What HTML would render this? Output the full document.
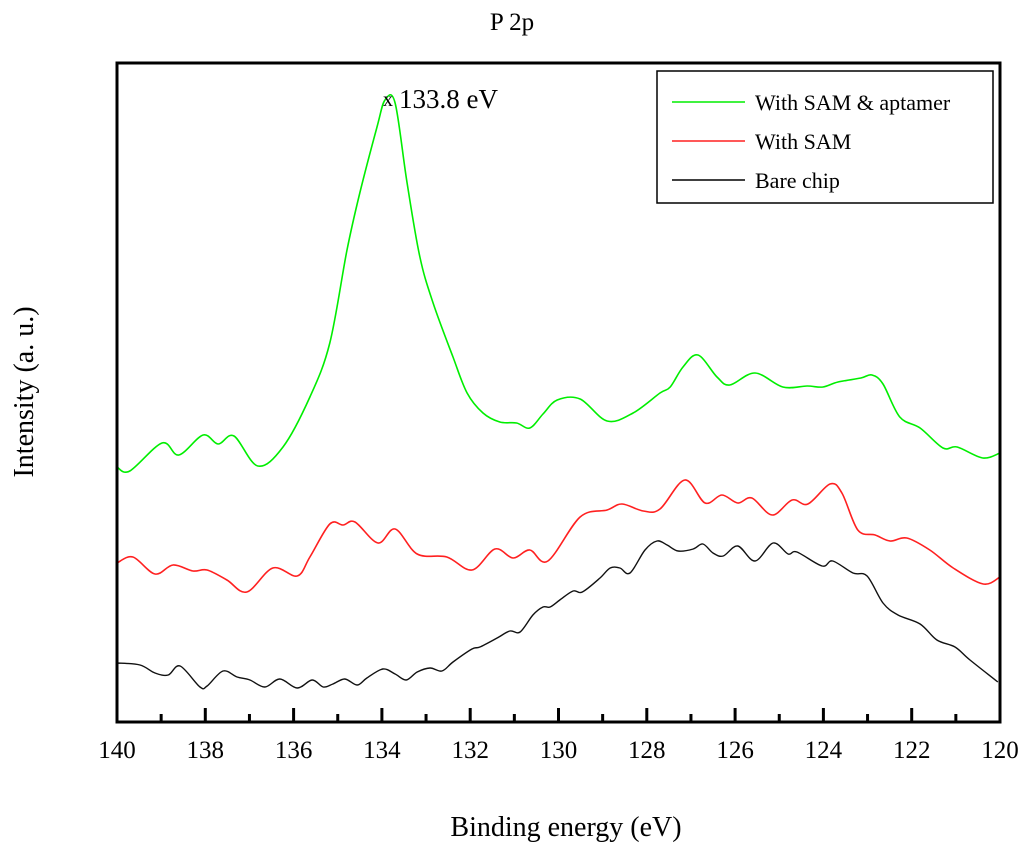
<!DOCTYPE html>
<html><head><meta charset="utf-8"><style>
body{margin:0;background:#fff;}
svg{display:block;font-family:"Liberation Serif",serif;}
</style></head><body>
<svg id="chart" width="1024" height="846">
<text x="512" y="30" text-anchor="middle" font-size="25">P 2p</text>
<text x="566" y="836" text-anchor="middle" font-size="28">Binding energy (eV)</text>
<text transform="translate(33,392) rotate(-90)" text-anchor="middle" font-size="28">Intensity (a. u.)</text>
<g id="series"></g>
<g id="axes"></g>
<text x="383" y="106" font-size="20">x</text>
<text x="399" y="108" font-size="27">133.8 eV</text>
<g>
<rect x="657" y="71" width="336" height="132" fill="#fff" stroke="#000" stroke-width="1.5"/>
<line x1="672" y1="102" x2="745" y2="102" stroke="#00ee00" stroke-width="1.5"/>
<text x="755" y="110" font-size="22">With SAM &amp; aptamer</text>
<line x1="672" y1="141" x2="745" y2="141" stroke="#ff2020" stroke-width="1.5"/>
<text x="755" y="149" font-size="22">With SAM</text>
<line x1="672" y1="180" x2="745" y2="180" stroke="#000" stroke-width="1.5"/>
<text x="755" y="188" font-size="22">Bare chip</text>
</g>
</svg>
<script>
const greenE=[140,139.71,138.98,138.60,138.05,137.71,137.35,136.81,136.24,135.63,135.18,134.79,134.50,134.11,133.93,133.70,133.43,133.14,132.84,132.39,132.07,131.71,131.33,130.95,130.65,130.35,130.03,129.51,128.90,128.31,127.70,127.47,127.18,126.84,126.41,126.12,125.55,124.92,124.37,124.01,123.67,123.15,122.90,122.65,122.27,121.81,121.29,120.97,120.39,120.0];
const greenI=[255,251,279,267,287,278,286,256,275,325,379,472,529,595,622,619,539,465,419,365,329,309,300,299,294,308,322,323,301,309,329,335,355,367,345,337,349,335,336,335,340,344,347,338,305,294,274,275,264,269];
const redE=[140,139.64,139.14,138.73,138.28,137.96,137.51,137.06,136.47,135.92,135.63,135.18,134.88,134.61,134.09,133.70,133.20,132.53,131.96,131.44,131.03,130.65,130.24,129.51,128.90,128.56,128.08,127.70,127.14,126.68,126.30,125.94,125.62,125.16,124.71,124.35,123.85,123.58,123.22,122.83,122.49,122.11,121.59,121.06,120.38,120];
const redI=[159,165,148,157,151,152,142,130,154,146,165,198,197,200,179,193,168,165,152,173,164,172,161,205,212,218,211,213,242,219,227,219,224,207,222,218,238,229,192,187,181,184,172,154,138,145];
const blackE=[140,139.48,139.14,138.84,138.57,138.12,137.96,137.60,137.28,136.99,136.65,136.31,135.92,135.58,135.33,135.11,134.84,134.56,134.34,133.98,133.70,133.45,133.20,132.91,132.64,132.39,131.96,131.78,131.39,131.10,130.87,130.58,130.35,130.19,129.97,129.67,129.46,129.06,128.83,128.61,128.38,128.04,127.77,127.54,127.29,126.95,126.73,126.50,126.27,125.94,125.55,125.14,124.80,124.60,124.03,123.79,123.33,123.01,122.65,122.31,121.81,121.43,121.02,120.68,120.05];
const blackI=[59,57,49,47,56,35,36,51,45,42,35,43,34,42,35,38,43,37,44,53,48,42,50,54,51,60,73,75,84,91,90,107,115,115,122,131,130,144,154,154,149,172,181,177,171,173,178,169,166,176,161,179,168,170,156,161,149,146,119,107,98,82,75,62,40];
const majorTicks=[140,138,136,134,132,130,128,126,124,122,120];
const minorTicks=[139,137,135,133,131,129,127,125,123,121];

const L=117,R=1000,T=63,B=722;
const xS=e=>L+(140-e)*(R-L)/20;
const yS=v=>B-v;
const NS="http://www.w3.org/2000/svg";
function mk(tag,attrs,parent){const el=document.createElementNS(NS,tag);for(const k in attrs)el.setAttribute(k,attrs[k]);parent.appendChild(el);return el;}
function smooth(E,I){
  const p=E.map((e,i)=>[xS(e),yS(I[i])]);
  let d="M"+p[0][0].toFixed(1)+","+p[0][1].toFixed(1);
  for(let i=0;i<p.length-1;i++){
    const p0=p[Math.max(0,i-1)],p1=p[i],p2=p[i+1],p3=p[Math.min(p.length-1,i+2)];
    const c1=[p1[0]+(p2[0]-p0[0])/6,p1[1]+(p2[1]-p0[1])/6];
    const c2=[p2[0]-(p3[0]-p1[0])/6,p2[1]-(p3[1]-p1[1])/6];
    d+=" C"+c1.map(v=>v.toFixed(1))+" "+c2.map(v=>v.toFixed(1))+" "+p2.map(v=>v.toFixed(1));
  }
  return d;
}
const sg=document.getElementById('series');
const s1=mk('path',{d:smooth(greenE,greenI),fill:'none',stroke:'#00ee00','stroke-width':1.6},sg);


const s2=mk('path',{d:smooth(redE,redI),fill:'none',stroke:'#ff2020','stroke-width':1.6},sg);


const s3=mk('path',{d:smooth(blackE,blackI),fill:'none',stroke:'#111','stroke-width':1.4},sg);



const ag=document.getElementById('axes');
const fr=mk('rect',{x:L,y:T,width:R-L,height:B-T,fill:'none',stroke:'#000','stroke-width':3},ag);


majorTicks.forEach(t=>{
  const ln=mk('line',{x1:xS(t),x2:xS(t),y1:B,y2:B-14,stroke:'#000','stroke-width':3},ag);
  
  
  const tx=mk('text',{x:xS(t),y:758,'text-anchor':'middle','font-size':25},ag);
  tx.textContent=t;
  
  
});
minorTicks.forEach(t=>{
  const ln=mk('line',{x1:xS(t),x2:xS(t),y1:B,y2:B-8,stroke:'#000','stroke-width':3},ag);
  
  
});
</script>
</body></html>
